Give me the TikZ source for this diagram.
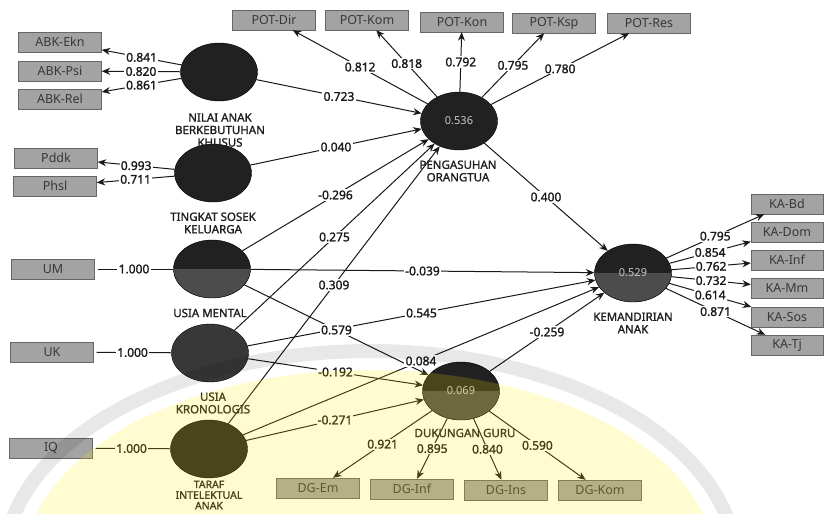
\documentclass[tikz,border=0pt]{standalone}
\usepackage{fontspec}
\setmainfont{Noto Sans}
\newfontfamily\heavyfont{Noto Sans}[FakeBold=1.4]
\usetikzlibrary{shapes.geometric,arrows.meta}
\tikzset{
  lat/.style={ellipse, draw=black, fill=black!87, minimum width=77pt, minimum height=58pt, inner sep=0pt, text=black!22, font=\fontsize{11}{12}\selectfont},
  latb/.style={lat, path picture={\fill[black!70] (path picture bounding box.west) rectangle (path picture bounding box.south east);}},
  ind/.style={rectangle, draw=black!60, fill=black!36, minimum width=83pt, minimum height=20pt, inner sep=0pt, text=black!78, font=\fontsize{12.5}{13}\selectfont},
  lv/.style={align=center, inner sep=0pt, text=black!88, font=\heavyfont\fontsize{11.5}{12.5}\selectfont},
  val/.style={fill=white, inner sep=1.2pt, text=black!90, font=\heavyfont\fontsize{12}{12}\selectfont},
  con/.style={line width=1pt, draw=black!90},
  arr/.style={con, -{Stealth[length=8.5pt,width=7pt]}},
}
\begin{document}
\begin{tikzpicture}[x=1pt,y=-1pt]
\useasboundingbox (0,0) rectangle (825,514);
\clip (0,0) rectangle (825,514);
\fill[white] (0,0) rectangle (825,514);

% latent variables
\node[lat] (NAB) at (219,72) {};
\node[lat] (TSK) at (213,173) {};
\node[latb] (UM) at (212,269) {};
\node[lat, fill=black!78] (UK) at (210,353) {};
\node[lat] (TI) at (209,449) {};
\node[lat] (POT) at (459,121) {0.536};
\node[latb] (KA) at (633,273) {0.529};
\node[latb] (DG) at (461,391) {0.069};

% latent labels
\node[lv] (NABl) at (220,130) {NILAI ANAK\\BERKEBUTUHAN\\KHUSUS};
\node[lv] (TSKl) at (213,223) {TINGKAT SOSEK\\KELUARGA};
\node[lv] (UMl) at (210,313) {USIA MENTAL};
\node[lv] (UKl) at (213,403) {USIA\\KRONOLOGIS};
\node[lv, font=\heavyfont\fontsize{10.5}{10.6}\selectfont] (TIl) at (209,495) {TARAF\\INTELEKTUAL\\ANAK};
\node[lv] (POTl) at (458,171) {PENGASUHAN\\ORANGTUA};
\node[lv] (KAl) at (633,323) {KEMANDIRIAN\\ANAK};
\node[lv] (DGl) at (465,433) {DUKUNGAN GURU};

% indicators
\node[ind] (ekn) at (60,42) {ABK-Ekn};
\node[ind] (psi) at (60,71) {ABK-Psi};
\node[ind] (rel) at (60,99) {ABK-Rel};
\node[ind] (pddk) at (56,158) {Pddk};
\node[ind] (phsl) at (55,186) {Phsl};
\node[ind] (umb) at (53,269) {UM};
\node[ind] (ukb) at (52,352) {UK};
\node[ind] (iqb) at (51,448) {IQ};
\node[ind] (pdir) at (274,20) {POT-Dir};
\node[ind] (pkom) at (367,20) {POT-Kom};
\node[ind] (pkon) at (462,22) {POT-Kon};
\node[ind] (pksp) at (554,23) {POT-Ksp};
\node[ind] (pres) at (649,23) {POT-Res};
\node[ind, minimum width=72pt] (kabd) at (787,204) {KA-Bd};
\node[ind, minimum width=72pt] (kadom) at (787,232) {KA-Dom};
\node[ind, minimum width=72pt] (kainf) at (787,260) {KA-Inf};
\node[ind, minimum width=72pt] (kamm) at (787,288) {KA-Mm};
\node[ind, minimum width=72pt] (kasos) at (787,317) {KA-Sos};
\node[ind, minimum width=72pt] (katj) at (787,345) {KA-Tj};
\node[ind] (dgem) at (318,488) {DG-Em};
\node[ind] (dginf) at (412,489) {DG-Inf};
\node[ind] (dgins) at (506,490) {DG-Ins};
\node[ind] (dgkom) at (600,490) {DG-Kom};

% connectors
\draw[arr] (NAB) -- (ekn);
\draw[arr] (NAB) -- (psi);
\draw[arr] (NAB) -- (rel);
\draw[arr] (TSK) -- (pddk);
\draw[arr] (TSK) -- (phsl);
\draw[con, shorten <=3pt] (umb) -- (UM);
\draw[con, shorten <=3pt] (ukb) -- (UK);
\draw[con, shorten <=3pt] (iqb) -- (TI);
\draw[arr] (POT) -- (pdir);
\draw[arr] (POT) -- (pkom);
\draw[arr] (POT) -- (pkon);
\draw[arr] (POT) -- (pksp);
\draw[arr] (POT) -- (pres);
\draw[arr] (KA) -- (kabd);
\draw[arr] (KA) -- (kadom);
\draw[arr] (KA) -- (kainf);
\draw[arr] (KA) -- (kamm);
\draw[arr] (KA) -- (kasos);
\draw[arr] (KA) -- (katj);
\draw[arr] (DG) -- (dgem);
\draw[arr] (DG) -- (dginf);
\draw[arr] (DG) -- (dgins);
\draw[arr] (DG) -- (dgkom);
\draw[arr] (NAB) -- (POT);
\draw[arr] (TSK) -- (POT);
\draw[arr] (UM) -- (POT);
\draw[arr] (UK) -- (POT);
\draw[arr] (TI) -- (POT);
\draw[arr] (POT) -- (KA);
\draw[arr] (UM) -- (KA);
\draw[arr] (UK) -- (KA);
\draw[arr] (TI) -- (KA);
\draw[arr] (DG) -- (KA);
\draw[arr] (UM) -- (DG);
\draw[arr] (UK) -- (DG);
\draw[arr] (TI) -- (DG);

% values on connectors
\path (NAB) -- node[val]{0.841} (ekn);
\path (NAB) -- node[val]{0.820} (psi);
\path (NAB) -- node[val]{0.861} (rel);
\path (TSK) -- node[val]{0.993} (pddk);
\path (TSK) -- node[val]{0.711} (phsl);
\path (umb) -- node[val]{1.000} (UM);
\path (ukb) -- node[val]{1.000} (UK);
\path (iqb) -- node[val]{1.000} (TI);
\path (POT) -- node[val]{0.812} (pdir);
\path (POT) -- node[val]{0.818} (pkom);
\path (POT) -- node[val]{0.792} (pkon);
\path (POT) -- node[val]{0.795} (pksp);
\path (POT) -- node[val]{0.780} (pres);
\path (KA) -- node[val]{0.795} (kabd);
\path (KA) -- node[val]{0.854} (kadom);
\path (KA) -- node[val]{0.762} (kainf);
\path (KA) -- node[val]{0.732} (kamm);
\path (KA) -- node[val]{0.614} (kasos);
\path (KA) -- node[val]{0.871} (katj);
\path (DG) -- node[val]{0.921} (dgem);
\path (DG) -- node[val]{0.895} (dginf);
\path (DG) -- node[val]{0.840} (dgins);
\path (DG) -- node[val]{0.590} (dgkom);
\path (NAB) -- node[val]{0.723} (POT);
\path (TSK) -- node[val]{0.040} (POT);
\path (UM) -- node[val]{-0.296} (POT);
\path (UK) -- node[val]{0.275} (POT);
\path (TI) -- node[val]{0.309} (POT);
\path (POT) -- node[val]{0.400} (KA);
\path (UM) -- node[val]{-0.039} (KA);
\path (UK) -- node[val]{0.545} (KA);
\path (TI) -- node[val]{0.084} (KA);
\path (DG) -- node[val]{-0.259} (KA);
\path (UM) -- node[val]{0.579} (DG);
\path (UK) -- node[val]{-0.192} (DG);
\path (TI) -- node[val]{-0.271} (DG);

% faint watermark
\fill[yellow, opacity=0.18] (370,565) ellipse [x radius=345pt, y radius=195pt];
\draw[black, opacity=0.09, line width=14pt] (370,565) ellipse [x radius=366pt, y radius=214pt];
\end{tikzpicture}
\end{document}
